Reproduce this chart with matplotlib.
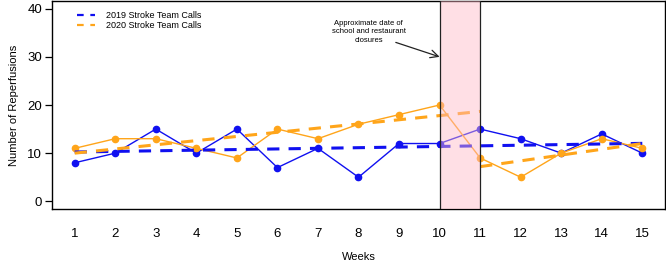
import numpy as np
import matplotlib
matplotlib.use("Agg")
import matplotlib.pyplot as plt
from matplotlib.lines import Line2D

plt.rcParams['font.family'] = ['Liberation Sans', 'DejaVu Sans']

weeks = np.arange(1, 16)
calls_2019 = [8, 10, 15, 10, 15, 7, 11, 5, 12, 12, 15, 13, 10, 14, 10]
calls_2020 = [11, 13, 13, 11, 9, 15, 13, 16, 18, 20, 9, 5, 10, 13, 11]
closure_start, closure_end = 10, 11
yticks = [0, 10, 20, 30, 40]

BLUE = '#1010F0'
ORANGE = '#FFA51A'

fig = plt.figure(figsize=(6.66, 2.61), dpi=100)
ax = fig.add_axes([52/666, 1-209/261, 613/666, 208/261])

ax.plot(weeks, calls_2019, color=BLUE, lw=1.0, marker='o', ms=4.5, zorder=2)
ax.plot(weeks, calls_2020, color=ORANGE, lw=1.0, marker='o', ms=4.5, zorder=2)

# trend lines
x19 = np.array(weeks, float)
p19 = np.polyfit(x19, calls_2019, 1)
ax.plot([1, 15], np.polyval(p19, [1, 15]), color=BLUE, lw=2.2, ls=(0, (4, 3)), zorder=3)
y20 = np.array(calls_2020, float)
pre = x19 <= closure_start
p_pre = np.polyfit(x19[pre], y20[pre], 1)
ax.plot([1, 11], np.polyval(p_pre, [1, 11]), color=ORANGE, lw=2.2, ls=(0, (4, 3)), zorder=3)
post = x19 >= closure_end
p_post = np.polyfit(x19[post], y20[post], 1)
ax.plot([11, 15], np.polyval(p_post, [11, 15]), color=ORANGE, lw=2.2, ls=(0, (4, 3)), zorder=3)

ax.axvspan(closure_start, closure_end, color='#FFB8C6', alpha=0.45, lw=0, zorder=4)
ax.axvline(closure_start, color='#222222', lw=0.9, zorder=5)
ax.axvline(closure_end, color='#222222', lw=0.9, zorder=5)

ax.set_xlim(0.44, 15.56)
ax.set_ylim(-1.6, 41.6)
ax.set_xticks(weeks)
ax.set_xticklabels([str(w) for w in weeks], fontsize=9.5)
ax.tick_params(axis='x', length=0, pad=14)
ax.set_yticks(yticks)
ax.set_yticklabels([str(t) for t in yticks], fontsize=9.5)
ax.tick_params(axis='y', length=5, width=0.9, pad=2)
for s in ax.spines.values():
    s.set_linewidth(1.0)

ax.set_xlabel('Weeks', fontsize=8, labelpad=8)
ax.set_ylabel('Number of Reperfusions', fontsize=8, labelpad=6)

handles = [Line2D([], [], color=BLUE, lw=1.6, ls=(0, (3, 3))),
           Line2D([], [], color=ORANGE, lw=1.6, ls=(0, (3, 3)))]
ax.legend(handles, ['2019 Stroke Team Calls', '2020 Stroke Team Calls'],
          loc='upper left', bbox_to_anchor=(0.035, 0.97), frameon=False,
          fontsize=6.5, handlelength=2.0, handletextpad=1.2, labelspacing=0.15,
          borderaxespad=0)

ax.text(8.25, 35.2, 'Approximate date of\nschool and restaurant\nclosures',
        ha='center', va='center', fontsize=5.5, linespacing=1.3)
ax.annotate('', xy=(10, 30), xytext=(8.92, 33.0),
            arrowprops=dict(arrowstyle='->', color='#222222', lw=0.9,
                            shrinkA=0, shrinkB=0, mutation_scale=14))

fig.savefig('out.png', dpi=100)
